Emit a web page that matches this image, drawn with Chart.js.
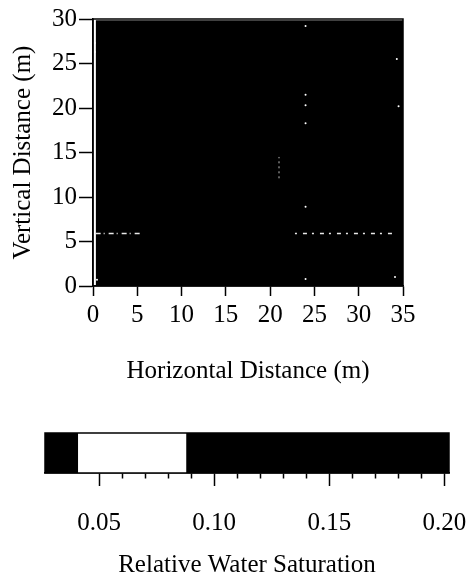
<!DOCTYPE html>
<html>
<head>
<meta charset="utf-8">
<script src="https://cdn.jsdelivr.net/npm/chart.js@4.4.1/dist/chart.umd.min.js"></script>
<style>
  body { margin: 0; background: #fff; }
  canvas { display: block; }
</style>
</head>
<body>
<canvas id="fieldChart" width="467" height="390"></canvas>
<canvas id="scaleChart" width="467" height="192"></canvas>
<script>
// saturation field (m) - whole grid sits in the dark band of the colour scale
const fieldX = [0.3, 35];
const fieldTop = 29.85;
const fieldSat = 0.15;
// faint light streaks in the scan
const streakY = 5.9;
const streakLeftX = [0.3, 5.6];
const streakRightX = [22.8, 34.1];
const crackX = 21.0;
const crackY = [12.1, 14.5];
const speckX = [24, 24, 24, 24, 24, 24, 0.2, 0.2, 0.45, 34.3, 34.5, 34.1];
const speckY = [29.2, 21.5, 20.3, 18.3, 8.9, 0.8, 27.3, 26.3, 0.7, 25.5, 20.2, 1.0];
const xTicks = [0, 5, 10, 15, 20, 25, 30, 35];
const yTicks = [0, 5, 10, 15, 20, 25, 30];

// colour scale (relative water saturation)
const scaleEdges = [0.0265, 0.041, 0.088, 0.202];
const scaleShade = ['dark', 'light', 'dark'];
const scaleTicks = [0.05, 0.06, 0.07, 0.08, 0.09, 0.10, 0.11, 0.12, 0.13, 0.14, 0.15, 0.16, 0.17, 0.18, 0.19, 0.20];
const scaleMajor = [0.05, 0.10, 0.15, 0.20];

Chart.defaults.font.family = '"Liberation Serif", "Times New Roman", serif';
Chart.defaults.font.size = 25;
Chart.defaults.color = '#000';

const shadeColor = (s) => (s === 'light' ? '#ffffff' : '#000000');
function satColor(v) {
  for (let i = 0; i < scaleShade.length; i++) {
    if (v >= scaleEdges[i] && v < scaleEdges[i + 1]) return shadeColor(scaleShade[i]);
  }
  return '#000000';
}
const isMajor = (v) => scaleMajor.some((m) => Math.abs(m - v) < 1e-6);

const frame = {
  id: 'frame',
  afterDatasetsDraw(chart) {
    const { ctx, chartArea: a } = chart;
    ctx.save();
    ctx.strokeStyle = '#000';
    ctx.lineWidth = 1.5;
    ctx.strokeRect(a.left, a.top, a.right - a.left, a.bottom - a.top);
    ctx.restore();
  },
};

const axisGrid = (len) => ({
  drawOnChartArea: false,
  drawTicks: true,
  tickLength: len,
  tickColor: '#000',
  tickWidth: 1.5,
});
// keep label overhang from shrinking the plot box
const noOverhang = (s) => {
  s.paddingLeft = 0;
  s.paddingRight = 0;
  s.paddingTop = 0;
  s.paddingBottom = 0;
};

new Chart(document.getElementById('fieldChart'), {
  type: 'line',
  data: {
    datasets: [
      {
        data: [{ x: fieldX[0], y: fieldTop }, { x: fieldX[1], y: fieldTop }],
        fill: 'origin',
        backgroundColor: satColor(fieldSat),
        borderWidth: 0,
        pointRadius: 0,
        order: 1,
      },
      {
        data: [{ x: streakLeftX[0], y: streakY }, { x: streakLeftX[1], y: streakY }],
        borderColor: '#e8e8e8',
        borderWidth: 1.5,
        borderDash: [5, 3, 1, 4],
        pointRadius: 0,
      },
      {
        data: [{ x: streakRightX[0], y: streakY }, { x: streakRightX[1], y: streakY }],
        borderColor: '#e8e8e8',
        borderWidth: 1.5,
        borderDash: [2, 6, 4, 5],
        pointRadius: 0,
      },
      {
        data: [{ x: crackX, y: crackY[0] }, { x: crackX, y: crackY[1] }],
        borderColor: '#bbbbbb',
        borderWidth: 1,
        borderDash: [2, 3],
        pointRadius: 0,
      },
      {
        type: 'scatter',
        data: speckX.map((x, i) => ({ x, y: speckY[i] })),
        backgroundColor: '#ffffff',
        borderWidth: 0,
        pointRadius: 1,
      },
    ],
  },
  options: {
    responsive: false,
    animation: false,
    layout: { padding: { top: 19, left: 0, right: 64, bottom: 4 } },
    plugins: { legend: { display: false }, tooltip: { enabled: false } },
    scales: {
      x: {
        type: 'linear',
        min: 0,
        max: 35,
        afterBuildTicks: (s) => { s.ticks = xTicks.map((v) => ({ value: v })); },
        afterFit: (s) => { s.height = 100; noOverhang(s); },
        grid: axisGrid(10),
        border: { display: true, color: '#000', width: 1.5 },
        ticks: { padding: 4, maxRotation: 0, autoSkip: false },
        title: { display: true, text: 'Horizontal Distance (m)', padding: 0 },
      },
      y: {
        type: 'linear',
        min: 0,
        max: 30,
        afterBuildTicks: (s) => { s.ticks = yTicks.map((v) => ({ value: v })); },
        afterFit: (s) => { s.width = 93; noOverhang(s); },
        grid: axisGrid(14),
        border: { display: true, color: '#000', width: 1.5 },
        ticks: { padding: 2, autoSkip: false },
        title: { display: true, text: 'Vertical Distance (m)', padding: { top: 8, bottom: 0 } },
      },
    },
  },
  plugins: [frame],
});

new Chart(document.getElementById('scaleChart'), {
  type: 'bar',
  data: {
    labels: ['s'],
    datasets: [
      {
        data: scaleShade.map((_, i) => ({ x: [scaleEdges[i], scaleEdges[i + 1]], y: 's' })),
        backgroundColor: scaleShade.map(shadeColor),
        borderWidth: 0,
        barPercentage: 1,
        categoryPercentage: 1,
      },
    ],
  },
  options: {
    indexAxis: 'y',
    responsive: false,
    animation: false,
    layout: { padding: { top: 43, left: 45, right: 18, bottom: 2 } },
    plugins: { legend: { display: false }, tooltip: { enabled: false } },
    scales: {
      y: { display: false },
      x: {
        type: 'linear',
        min: scaleEdges[0],
        max: scaleEdges[scaleEdges.length - 1],
        afterBuildTicks: (s) => { s.ticks = scaleTicks.map((v) => ({ value: v })); },
        afterFit: (s) => { s.height = 107; noOverhang(s); },
        grid: {
          ...axisGrid(13),
          tickBorderDash: (c) => (c.tick && isMajor(c.tick.value) ? [] : [5, 40]),
        },
        border: { display: true, color: '#000', width: 1.5 },
        ticks: {
          padding: 22,
          maxRotation: 0,
          autoSkip: false,
          callback: (v) => (isMajor(v) ? v.toFixed(2) : ''),
        },
        title: { display: true, text: 'Relative Water Saturation', padding: 0 },
      },
    },
  },
  plugins: [frame],
});
</script>
</body>
</html>
